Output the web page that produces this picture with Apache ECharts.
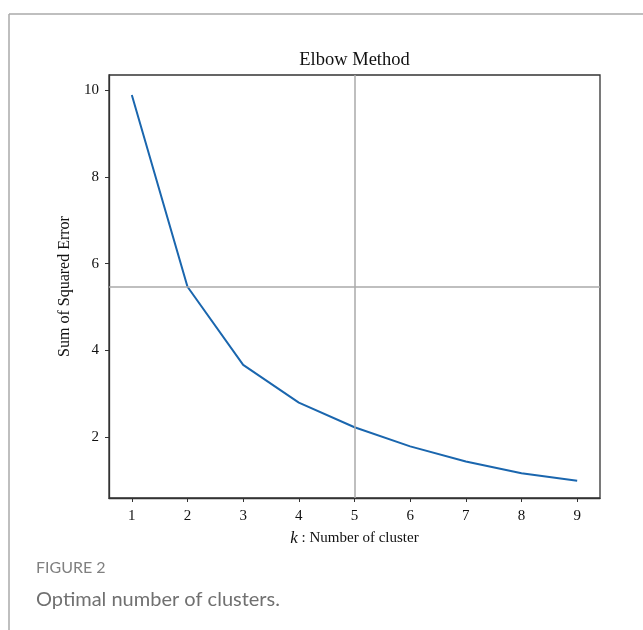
<!DOCTYPE html>
<html>
<head>
<meta charset="utf-8">
<style>
html,body{margin:0;padding:0;background:#fff;}
#chart{width:643px;height:630px;}
</style>
<script src="https://cdn.jsdelivr.net/npm/echarts@6/dist/echarts.min.js"></script>
</head>
<body>
<div id="chart"></div>
<script>
const ks = [1, 2, 3, 4, 5, 6, 7, 8, 9];
const sse = [9.89, 5.47, 3.67, 2.80, 2.23, 1.79, 1.44, 1.17, 1.00];
const xTicks = [1, 2, 3, 4, 5, 6, 7, 8, 9];
const yTicks = [2, 4, 6, 8, 10];
const elbowK = 5;
const elbowSSE = 5.46;

const serif = '"Liberation Serif", "Times New Roman", serif';
const chart = echarts.init(document.getElementById('chart'), null, {renderer: 'canvas'});
chart.setOption({
  animation: false,
  backgroundColor: '#fff',
  grid: {
    left: 109, top: 75, right: 43, bottom: 132,
    show: true, borderColor: '#333', borderWidth: 1.3, backgroundColor: '#fff'
  },
  xAxis: {
    type: 'value', min: 0.59, max: 9.41,
    name: '{k|k} : Number of cluster',
    nameLocation: 'middle', nameGap: 32,
    nameTextStyle: {
      fontFamily: serif, fontSize: 15, color: '#111',
      rich: {k: {fontFamily: serif, fontStyle: 'italic', fontSize: 17, color: '#111'}}
    },
    axisLine: {show: true, onZero: false, lineStyle: {color: '#333', width: 1.3}},
    axisTick: {show: true, customValues: xTicks, length: 4, lineStyle: {color: '#333', width: 1}},
    axisLabel: {customValues: xTicks, fontFamily: serif, fontSize: 15, color: '#111', margin: 11},
    splitLine: {show: false}
  },
  yAxis: {
    type: 'value', min: 0.6, max: 10.35,
    name: 'Sum of Squared Error',
    nameLocation: 'middle', nameGap: 34,
    nameTextStyle: {fontFamily: serif, fontSize: 16, color: '#111'},
    axisLine: {show: true, onZero: false, lineStyle: {color: '#333', width: 1.3}},
    axisTick: {show: true, customValues: yTicks, length: 4, lineStyle: {color: '#333', width: 1}},
    axisLabel: {customValues: yTicks, fontFamily: serif, fontSize: 15, color: '#111', margin: 10},
    splitLine: {show: false}
  },
  series: [{
    type: 'line',
    data: ks.map((k, i) => [k, sse[i]]),
    showSymbol: false,
    lineStyle: {color: '#1a66ae', width: 2},
    itemStyle: {color: '#1a66ae'},
    markLine: {
      silent: true, symbol: ['none', 'none'],
      label: {show: false},
      lineStyle: {color: '#aaaaaa', width: 1.5, type: 'solid'},
      data: [{xAxis: elbowK}, {yAxis: elbowSSE}]
    },
    z: 3
  }],
  graphic: [
    {type: 'line', shape: {x1: 9, y1: 14, x2: 643, y2: 14}, style: {stroke: '#aaaaaa', lineWidth: 1.5}},
    {type: 'line', shape: {x1: 9, y1: 14, x2: 9, y2: 630}, style: {stroke: '#aaaaaa', lineWidth: 1.5}},
    {type: 'text', x: 354.5, y: 60, style: {text: 'Elbow Method', font: '18.5px "Liberation Serif", serif', fill: '#111', textAlign: 'center', textVerticalAlign: 'middle'}},
    {type: 'text', x: 36, y: 568, style: {text: 'FIGURE 2', font: '16px Lato, "Open Sans", sans-serif', fill: '#808080', textVerticalAlign: 'middle'}},
    {type: 'text', x: 36, y: 600, style: {text: 'Optimal number of clusters.', font: '20px Lato, "Open Sans", sans-serif', fill: '#707070', textVerticalAlign: 'middle'}}
  ]
});
</script>
</body>
</html>
